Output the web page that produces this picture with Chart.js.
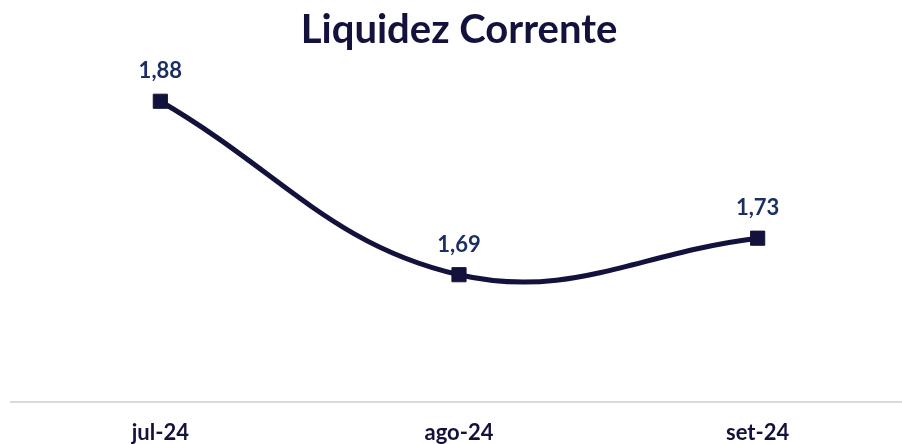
<!DOCTYPE html>
<html>
<head>
<meta charset="utf-8">
<script src="https://cdn.jsdelivr.net/npm/chart.js@4.4.1/dist/chart.umd.min.js"></script>
<style>
  html, body { margin: 0; padding: 0; background: #fff; overflow: hidden; }
  #wrap { width: 918px; height: 464px; }
</style>
</head>
<body>
<div id="wrap"><canvas id="chart"></canvas></div>
<script>
const months = ["jul-24", "ago-24", "set-24"];
const liquidez = [1.88, 1.69, 1.73];

const navy = "#13123d";
const labelBlue = "#1b2f63";

// rótulos de valor acima de cada ponto
const valueLabels = {
  id: "valueLabels",
  afterDatasetsDraw(chart) {
    const ctx = chart.ctx;
    const meta = chart.getDatasetMeta(0);
    ctx.save();
    ctx.font = "bold 22px Lato";
    ctx.fillStyle = labelBlue;
    ctx.textAlign = "center";
    ctx.textBaseline = "middle";
    meta.data.forEach((pt, i) => {
      ctx.fillText(liquidez[i].toFixed(2).replace(".", ","), pt.x, pt.y - 30);
    });
    ctx.restore();
  }
};

new Chart(document.getElementById("chart"), {
  type: "line",
  data: {
    labels: months,
    datasets: [{
      data: liquidez,
      borderColor: navy,
      borderWidth: 5,
      tension: 0.4,
      pointStyle: "rect",
      pointRadius: 10,
      pointBackgroundColor: navy,
      pointBorderColor: navy,
      pointBorderWidth: 1
    }]
  },
  options: {
    responsive: true,
    maintainAspectRatio: false,
    animation: false,
    layout: { padding: { left: 0, right: 0, top: 0, bottom: 0 } },
    plugins: {
      legend: { display: false },
      tooltip: { enabled: false },
      title: {
        display: true,
        text: "Liquidez Corrente",
        color: navy,
        font: { family: "Lato", size: 40, weight: "bold" },
        padding: { top: 6, bottom: 8 }
      }
    },
    scales: {
      x: {
        offset: true,
        grid: { display: false, drawTicks: false },
        border: { display: true, color: "#d9d9d9", width: 2 },
        ticks: {
          color: navy,
          font: { family: "Lato", size: 22, weight: "bold" },
          padding: 18
        }
      },
      y: {
        display: false,
        min: 1.551,
        max: 1.923
      }
    }
  },
  plugins: [valueLabels]
});
</script>
</body>
</html>
